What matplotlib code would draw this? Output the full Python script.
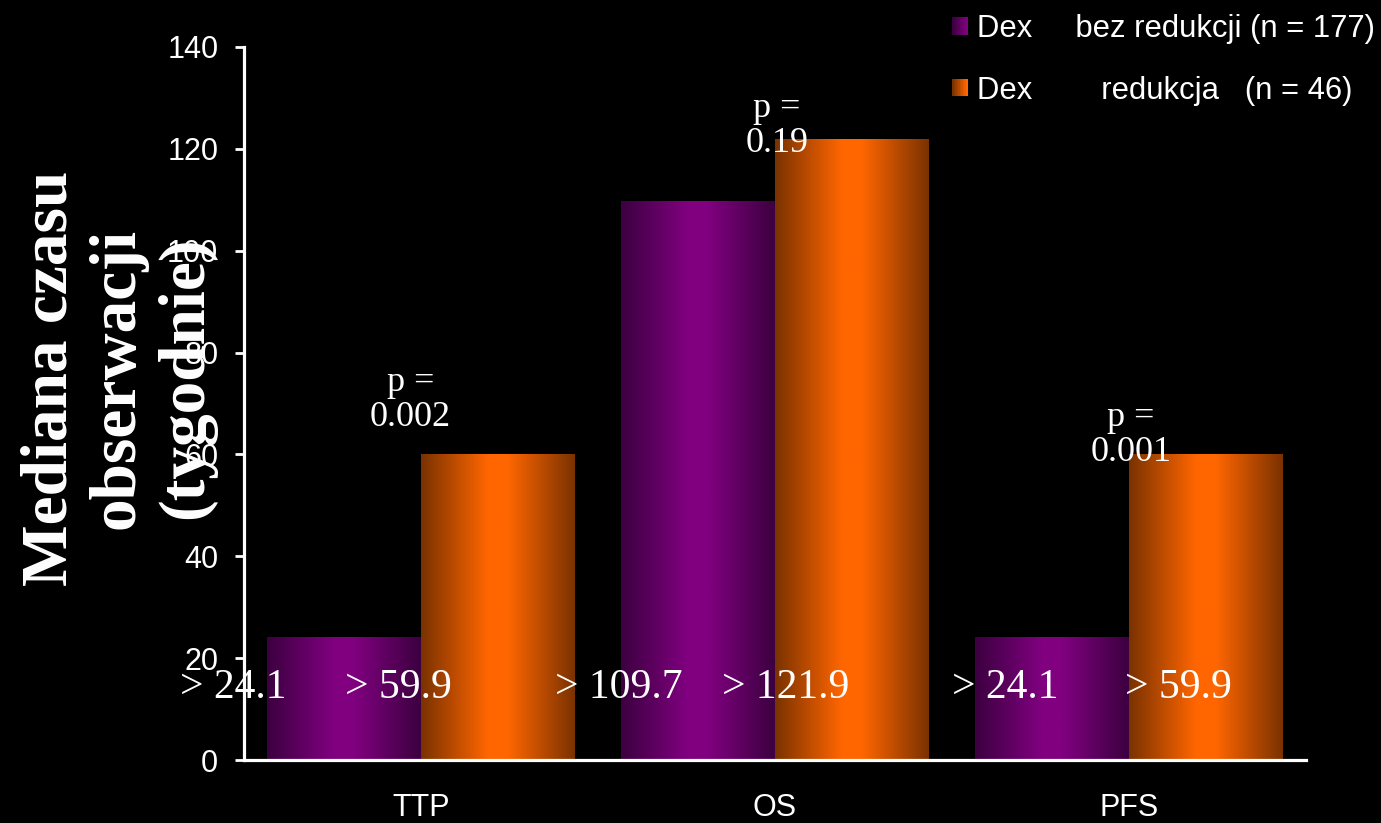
import numpy as np
import matplotlib
matplotlib.use("Agg")
import matplotlib.pyplot as plt
from matplotlib.patches import Rectangle
from matplotlib.legend_handler import HandlerBase

# ---------------- data ----------------
categories = ["TTP", "OS", "PFS"]
bez_redukcji = [24.1, 109.7, 24.1]      # Dex bez redukcji (n = 177)
redukcja = [59.9, 121.9, 59.9]          # Dex redukcja (n = 46)
p_values = ["0.002", "0.19", "0.001"]
series_labels = ["Dex     bez redukcji (n = 177)", "Dex        redukcja   (n = 46)"]
y_ticks = [0, 20, 40, 60, 80, 100, 120, 140]
y_label = "Mediana czasu\nobserwacji\n(tygodnie)"

# ---------------- style / layout ----------------
plt.rcParams["font.family"] = ["Liberation Sans", "DejaVu Sans"]
W, H = 1381, 823
fig = plt.figure(figsize=(W / 100, H / 100), dpi=100)
fig.patch.set_facecolor("black")
ax = fig.add_axes([244 / W, 1 - 760 / H, (1306 - 244) / W, (760 - 47) / H])
ax.set_facecolor("black")

purple_dark, purple_bright = np.array([60, 0, 64]) / 255, np.array([128, 0, 128]) / 255
orange_dark, orange_bright = np.array([122, 50, 0]) / 255, np.array([255, 102, 0]) / 255


def grad_row(dark, bright, n=256, full=True):
    t = np.linspace(0, 1, n)
    if full:
        g = np.clip((1 - np.abs(t - 0.5) / 0.5) * 1.15, 0, 1)
    else:
        g = t
    return dark[None, :] * (1 - g[:, None]) + bright[None, :] * g[:, None]


bw = 0.435
x = np.arange(len(categories))
b1 = ax.bar(x - bw / 2, bez_redukcji, bw, color=purple_bright, zorder=1)
b2 = ax.bar(x + bw / 2, redukcja, bw, color=orange_bright, zorder=1)

for bars, dark, bright in [(b1, purple_dark, purple_bright), (b2, orange_dark, orange_bright)]:
    img = grad_row(dark, bright)[None, :, :]
    for r in bars:
        ax.imshow(img, extent=(r.get_x(), r.get_x() + r.get_width(), r.get_y(), r.get_y() + r.get_height()),
                  aspect="auto", interpolation="bilinear", zorder=2)

ax.set_xlim(-0.5, 2.5)
ax.set_ylim(0, 140)

# value labels (hand-placed in original)
dx_purple = [-0.312, -0.224, -0.133]
dx_orange = [-0.281, -0.187, -0.077]
label_base = 12.2
for i in range(len(categories)):
    ax.text(b1[i].get_x() + bw / 2 + dx_purple[i], label_base, f"> {bez_redukcji[i]:.1f}",
            ha="center", va="baseline", color="white", fontsize=30, family="Liberation Serif", zorder=5)
    ax.text(b2[i].get_x() + bw / 2 + dx_orange[i], label_base, f"> {redukcja[i]:.1f}",
            ha="center", va="baseline", color="white", fontsize=30, family="Liberation Serif", zorder=5)

# p-value labels
p_dx = [-0.03, 0.006, 0.006]
p_dy = [10.8, 2.6, 3.9]
for i in range(len(categories)):
    ax.text(x[i] + p_dx[i], redukcja[i] + p_dy[i], f"p =\n{p_values[i]}", ha="center", va="center",
            color="white", fontsize=26, family="Liberation Serif", linespacing=1.05, zorder=5)

# axes styling
for s in ["top", "right"]:
    ax.spines[s].set_visible(False)
for s in ["left", "bottom"]:
    ax.spines[s].set_color("white")
    ax.spines[s].set_linewidth(2.3)
ax.set_yticks(y_ticks)
ax.set_xticks(x)
ax.set_xticklabels(categories)
ax.tick_params(axis="y", colors="white", length=6.5, width=2, pad=12, labelsize=22)
ax.tick_params(axis="x", colors="white", length=0, pad=24, labelsize=22)

# y label
fig.text(118 / W, 1 - 378 / H, y_label, rotation=90, ha="center", va="center", multialignment="center",
         color="white", fontsize=47, fontweight="bold", family="Liberation Serif", linespacing=1.17)


# legend with gradient squares
class GradHandler(HandlerBase):
    def __init__(self, dark, bright):
        super().__init__()
        self.dark, self.bright = dark, bright

    def create_artists(self, legend, orig_handle, xdescent, ydescent, width, height, fontsize, trans):
        n = 10
        cols = grad_row(self.dark, self.bright, n=n, full=False)
        arts = []
        for k in range(n):
            arts.append(Rectangle((-xdescent + k * width / n, -ydescent), width / n + 0.01, height,
                                  facecolor=cols[k], edgecolor="none", transform=trans))
        return arts


h1 = Rectangle((0, 0), 1, 1)
h2 = Rectangle((0, 0), 1, 1)
leg = fig.legend([h1, h2], series_labels,
                 handler_map={h1: GradHandler(purple_dark, purple_bright), h2: GradHandler(orange_dark, orange_bright)},
                 loc="upper left", bbox_to_anchor=(952 / W, 1 - 14 / H), frameon=False, fontsize=22.3,
                 handlelength=0.5, handleheight=0.5, handletextpad=0.3, labelspacing=1.02,
                 borderpad=0, borderaxespad=0)
for t in leg.get_texts():
    t.set_color("white")

fig.savefig("out.png", dpi=100, facecolor="black")
